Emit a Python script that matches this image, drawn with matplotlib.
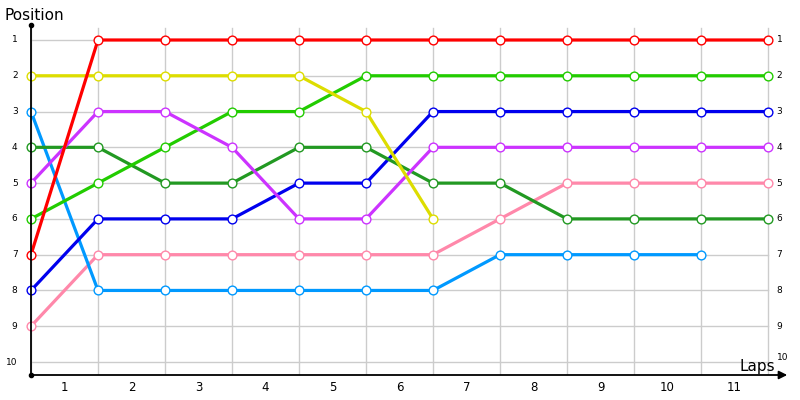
import numpy as np
import matplotlib.pyplot as plt

laps = list(range(12))
lap_labels = [str(i) for i in range(1, 12)]
positions = list(range(1, 11))

red = [7, 1, 1, 1, 1, 1, 1, 1, 1, 1, 1, 1]
yellow = [2, 2, 2, 2, 2, 3, 6]
sky = [3, 8, 8, 8, 8, 8, 8, 7, 7, 7, 7]
darkgreen = [4, 4, 5, 5, 4, 4, 5, 5, 6, 6, 6, 6]
purple = [5, 3, 3, 4, 6, 6, 4, 4, 4, 4, 4, 4]
green = [6, 5, 4, 3, 3, 2, 2, 2, 2, 2, 2, 2]
blue = [8, 6, 6, 6, 5, 5, 3, 3, 3, 3, 3, 3]
pink = [9, 7, 7, 7, 7, 7, 7, 6, 5, 5, 5, 5]

series = [
    (pink, '#ff88aa'),
    (sky, '#0099ff'),
    (blue, '#0000ee'),
    (darkgreen, '#229922'),
    (green, '#22cc00'),
    (purple, '#cc33ff'),
    (yellow, '#dddd00'),
    (red, '#ff0000'),
]

fig = plt.figure(figsize=(8, 4), dpi=100)
ax = fig.add_axes([31 / 800, 25 / 400, (790 - 31) / 800, 350 / 400])
ymin = 10 + 13 / 35.8
ymax = 1 - 15 / 35.8
ax.set_xlim(0, 759 / 67)
ax.set_ylim(ymin, ymax)

# grid
for x in laps:
    ax.plot([x, x], [ymin, 1 - 12 / 35.8], color='#cccccc', lw=1, zorder=1)
for y in positions:
    ax.plot([0, 11], [y, y], color='#cccccc', lw=1, zorder=1)

for vals, c in series:
    xs = laps[:len(vals)]
    ax.plot(xs, vals, color=c, lw=2.3, zorder=3, solid_capstyle='round')
    ax.plot(xs, vals, 'o', ms=6.3, mfc='white', mec=c, mew=1.0, zorder=4, clip_on=False)

for s in ax.spines.values():
    s.set_visible(False)
ax.set_xticks([])
ax.set_yticks([])

# axes lines
ax.plot([0, 0], [ymin, ymax], color='black', lw=1.3, clip_on=False, zorder=5)
ax.plot([0], [ymax], 'o', color='black', ms=3, clip_on=False, zorder=5)
ax.plot([0], [ymin], 'o', color='black', ms=3, clip_on=False, zorder=5)
ax.annotate('', xy=(759 / 67, ymin), xytext=(0, ymin),
            arrowprops=dict(arrowstyle='-|>', color='black', lw=1.3, mutation_scale=12),
            zorder=5, annotation_clip=False)

for p in positions:
    ax.text(-0.2, p, str(p), ha='right', va='center', fontsize=6.5)
    ax.text(11.13, p - (0.12 if p == 10 else 0), str(p), ha='left', va='center', fontsize=6.5)
for i, lab in enumerate(lap_labels):
    ax.text(i + 0.5, 10.72, lab, ha='center', va='center', fontsize=8.5)

fig.text(5 / 800, 1 - 15 / 400, 'Position', ha='left', va='center', fontsize=11)
fig.text(775 / 800, 1 - 366 / 400, 'Laps', ha='right', va='center', fontsize=11)

fig.savefig('out.png', dpi=100)
